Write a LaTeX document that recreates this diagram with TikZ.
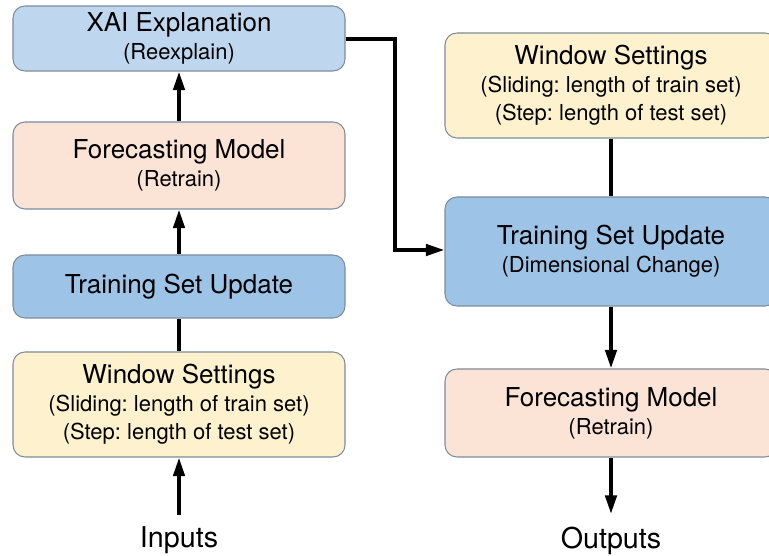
\documentclass[tikz,border=0pt]{standalone}
\usepackage{fontspec}
\setmainfont{TeX Gyre Heros}
\usetikzlibrary{arrows.meta}
\frenchspacing

\definecolor{xaiblue}{RGB}{190,215,239}
\definecolor{tsublue}{RGB}{157,195,230}
\definecolor{fmpeach}{RGB}{251,227,214}
\definecolor{wsyellow}{RGB}{254,242,206}
\definecolor{boxline}{RGB}{125,140,155}

\newcommand{\titlefont}{\fontsize{19.5}{21}\selectfont}
\newcommand{\subfont}{\fontsize{16.5}{21}\selectfont}

\tikzset{
  flowbox/.style={draw=boxline, line width=0.8pt, rounded corners=9pt,
    minimum width=332*0.75pt, align=center, font=\subfont, inner sep=0pt},
  flowline/.style={line width=2.8pt, black},
  flowarrow/.style={flowline, -{Triangle[length=14pt,width=8.5pt]}},
  ioLabel/.style={font=\fontsize{21.5}{24}\selectfont, inner sep=0pt}
}

\begin{document}
\begin{tikzpicture}[x=0.75pt,y=0.75pt,yscale=-1,xscale=1]
\clip (0,0) rectangle (769,556);

%Shape: Rounded Rect [id:xai]
\node [flowbox, fill=xaiblue, minimum height=65*0.75pt] (xai) at (179,38.5) {{\titlefont XAI Explanation}\\(Reexplain)};
%Shape: Rounded Rect [id:fmL]
\node [flowbox, fill=fmpeach, minimum height=87*0.75pt] (fmL) at (179,165.5) {{\titlefont Forecasting Model}\\(Retrain)};
%Shape: Rounded Rect [id:tsuL]
\node [flowbox, fill=tsublue, minimum height=63*0.75pt] (tsuL) at (179,286.5) {\titlefont Training Set Update};
%Shape: Rounded Rect [id:wsL]
\node [flowbox, fill=wsyellow, minimum height=105*0.75pt] (wsL) at (179,404.5) {{\titlefont Window Settings}\\(Sliding: length of train set)\\(Step: length of test set)};

%Shape: Rounded Rect [id:wsR]
\node [flowbox, fill=wsyellow, minimum height=105*0.75pt] (wsR) at (611,85.5) {{\titlefont Window Settings}\\(Sliding: length of train set)\\(Step: length of test set)};
%Shape: Rounded Rect [id:tsuR]
\node [flowbox, fill=tsublue, minimum height=109*0.75pt] (tsuR) at (611,251.5) {{\titlefont Training Set Update}\\(Dimensional Change)};
%Shape: Rounded Rect [id:fmR]
\node [flowbox, fill=fmpeach, minimum height=88*0.75pt] (fmR) at (611,413) {{\titlefont Forecasting Model}\\(Retrain)};

% Text Node
\node [ioLabel] (inputs) at (179,540) {Inputs};
% Text Node
\node [ioLabel] (outputs) at (611,541) {Outputs};
\coordinate (inStart) at (179,515);
\coordinate (outEnd) at (611,514);
\coordinate (bendTop) at (395,39);
\coordinate (bendLow) at (395,250);

%Straight Lines: left column
\draw [flowarrow] (inStart) -- (wsL.south);
\draw [flowline] (wsL.north) -- (tsuL.south);
\draw [flowarrow] (tsuL.north) -- (fmL.south);
\draw [flowarrow] (fmL.north) -- (xai.south);

%Straight Lines: feedback to the right column
\draw [flowarrow] (xai.east |- bendTop) -- (bendTop) -- (bendLow) -- (tsuR.west |- bendLow);

%Straight Lines: right column
\draw [flowline] (wsR.south) -- (tsuR.north);
\draw [flowarrow] (tsuR.south) -- (fmR.north);
\draw [flowarrow] (fmR.south) -- (outEnd);

\end{tikzpicture}
\end{document}
